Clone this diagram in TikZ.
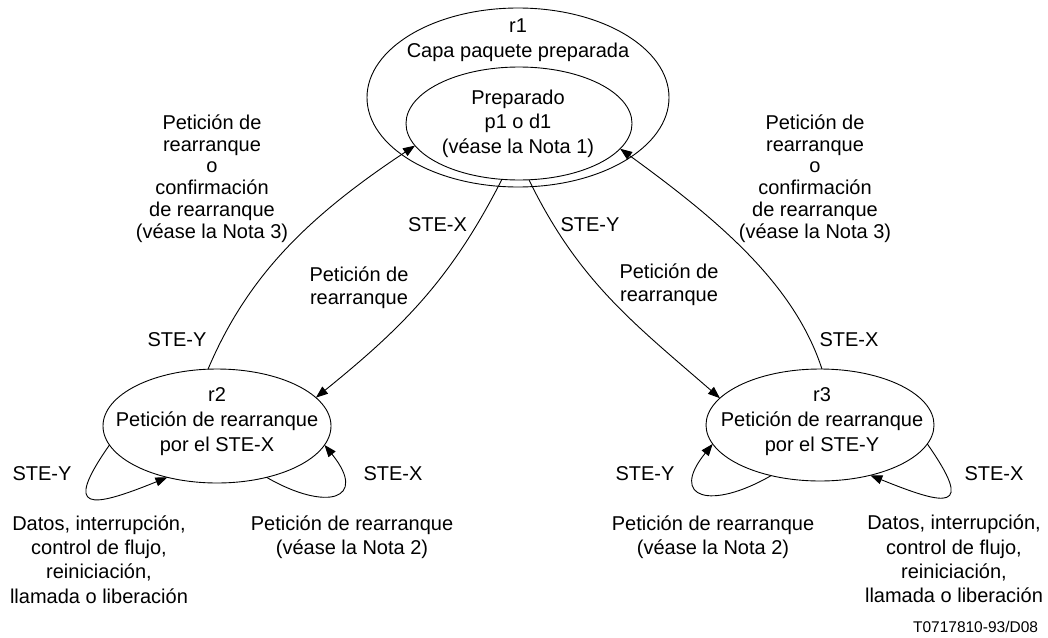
\documentclass[tikz,border=0pt]{standalone}
\usepackage{fontspec}
\setmainfont{Liberation Sans}
\usetikzlibrary{shapes.geometric,arrows.meta}
\begin{document}
\begin{tikzpicture}[x=1pt,y=1pt,
  every node/.style={font=\fontsize{20}{24.4}\selectfont, inner sep=0pt, outer sep=0pt},
  state/.style={draw, ellipse, line width=0.9pt},
  lbl/.style={align=center},
  arr/.style={-{Triangle[length=12pt,width=9pt]}, line width=0.9pt}]
\useasboundingbox (0,0) rectangle (1048,-637);
\fill[white] (0,0) rectangle (1048,-637);
% states
\node[state, minimum width=302, minimum height=179] (r1o) at (518,-97.5) {};
\node[state, minimum width=226, minimum height=113] (r1i) at (519,-123.5) {};
\node[lbl, font=\fontsize{20}{25}\selectfont] (t1) at (518,-40.5) {r1\\Capa paquete preparada};
\node[lbl, font=\fontsize{20}{24.5}\selectfont] (t1i) at (518,-123.5) {Preparado\\p1 o d1\\(véase la Nota 1)};
\node[state, minimum width=228, minimum height=114] (r2) at (217,-426) {};
\node[lbl, font=\fontsize{20}{25}\selectfont] (t2) at (217,-422) {r2\\Petición de rearranque\\por el STE-X};
\node[state, minimum width=228, minimum height=112] (r3) at (820,-425) {};
\node[lbl, font=\fontsize{20}{25}\selectfont] (t3) at (822,-422) {r3\\Petición de rearranque\\por el STE-Y};
% transitions between states
\draw[arr] (r2.99) .. controls +(67:100) and +(213.5:130) .. (r1i.192.5);
\draw[arr] (r1i.253) to[out=243,in=39] (r2.16);
\draw[arr] (r1i.280) to[out=296,in=139] (r3.165);
\draw[arr] (r3.88) .. controls +(108:90) and +(324:120) .. (r1i.346);
% self loops
\draw[arr] (r2.190) .. controls +(235:83) and +(202:83) .. (r2.226);
\draw[arr] (r2.314) .. controls +(330:70) and +(309:70) .. (r2.350);
\draw[arr] (r3.226) .. controls +(210:70) and +(231:70) .. (r3.190);
\draw[arr] (r3.350) .. controls +(305:83) and +(338:83) .. (r3.315);
% labels
\node[lbl, font=\fontsize{20}{21.8}\selectfont] (la) at (212,-178.5) {Petición de\\rearranque\\o\\confirmación\\de rearranque\\(véase la Nota 3)};
\node[lbl, font=\fontsize{20}{21.8}\selectfont] (ld) at (815,-178.5) {Petición de\\rearranque\\o\\confirmación\\de rearranque\\(véase la Nota 3)};
\node (sa) at (177,-340) {STE-Y};
\node (sd) at (849,-340) {STE-X};
\node (sb) at (437.5,-225) {STE-X};
\node (sc) at (590,-225) {STE-Y};
\node[lbl, font=\fontsize{20}{23}\selectfont] (lb) at (359,-287.5) {Petición de\\rearranque};
\node[lbl, font=\fontsize{20}{23}\selectfont] (lc) at (669,-284.5) {Petición de\\rearranque};
\node (s2l) at (42,-474) {STE-Y};
\node (s2r) at (393,-474) {STE-X};
\node (s3l) at (645,-474) {STE-Y};
\node (s3r) at (994,-474) {STE-X};
\node[lbl, font=\fontsize{20}{24.3}\selectfont] (d2) at (99,-559.5) {Datos, interrupción,\\control de flujo,\\reiniciación,\\llamada o liberación};
\node[lbl, font=\fontsize{20}{24}\selectfont] (n2) at (352,-537) {Petición de rearranque\\(véase la Nota 2)};
\node[lbl, font=\fontsize{20}{24}\selectfont] (n3) at (713,-537) {Petición de rearranque\\(véase la Nota 2)};
\node[lbl, font=\fontsize{20}{24.3}\selectfont] (d3) at (954,-559) {Datos, interrupción,\\control de flujo,\\reiniciación,\\llamada o liberación};
\node[anchor=east, font=\fontsize{15.5}{18}\selectfont] (code) at (1038,-627) {T0717810-93/D08};
\end{tikzpicture}
\end{document}
